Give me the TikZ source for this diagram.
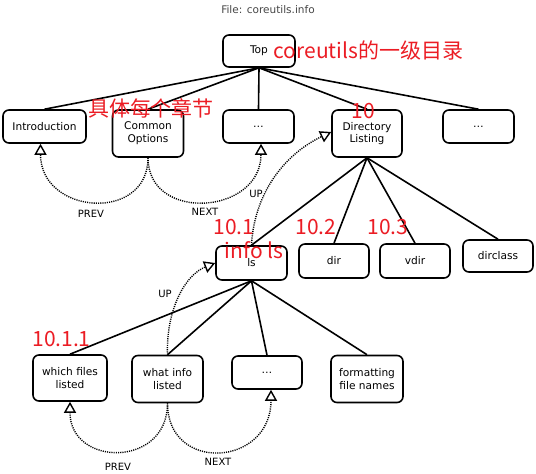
\documentclass[tikz,border=0pt]{standalone}
\usepackage{fontspec}
\setmainfont{DejaVu Sans}
\newfontfamily\cjk{Noto Sans CJK SC}
\usetikzlibrary{arrows.meta}
\definecolor{notered}{RGB}{235,28,36}
\definecolor{titlegray}{RGB}{70,70,70}

\begin{document}
\begin{tikzpicture}[x=1pt,y=-1pt,
	infobox/.style={draw,line width=1.6pt,rounded corners=6pt,minimum width=71pt,minimum height=33pt,align=center,inner sep=1pt,font=\fontsize{10.6}{12.8}\selectfont},
	twoline/.style={infobox,minimum height=47pt},
	branch/.style={line width=1.6pt},
	jump/.style={line width=1.4pt,dash pattern=on 1.1pt off 1.1pt,-{Triangle[open,length=11pt,width=12pt,line width=1.4pt]}},
	jumplbl/.style={font=\fontsize{10}{12}\selectfont},
	memo/.style={text=notered,inner sep=0pt,font=\cjk\fontsize{21}{24}\selectfont}]
	\useasboundingbox (0,0) rectangle (536,474);

	\node[text=titlegray,font=\fontsize{10.5}{12}\selectfont] (title) at (268,10) {File: coreutils.info};

	\node[infobox,minimum width=72pt,minimum height=32pt] (top) at (259,51) {Top};

	\node[infobox,minimum width=83pt] (intro) at (44.5,126.5) {Introduction};
	\node[twoline] (common) at (148,133.5) {Common\\Options};
	\node[infobox] (dots1) at (258.5,126.5) {\dots};
	\node[twoline,minimum width=70pt] (dirlist) at (367,133.5) {Directory\\Listing};
	\node[infobox] (dots2) at (478.5,126.5) {\dots};

	\node[infobox,minimum height=34pt] (ls) at (251.5,263) {ls};
	\node[infobox,minimum width=70pt,minimum height=34pt] (dir) at (334,261) {dir};
	\node[infobox,minimum width=70pt,minimum height=34pt] (vdir) at (415,261) {vdir};
	\node[infobox,minimum width=70pt,minimum height=32pt] (dirclass) at (498,256) {dirclass};

	\node[twoline,minimum width=74pt,minimum height=46pt] (which) at (70,378) {which files\\listed};
	\node[twoline] (what) at (167.5,379) {what info\\listed};
	\node[infobox,minimum width=70pt] (dots3) at (267,372.5) {\dots};
	\node[twoline,minimum width=72pt] (fmt) at (367,379) {formatting\\file names};

	\foreach \kid in {intro,common,dots1,dirlist,dots2}
		\draw[branch] (top.south) -- (\kid.north);
	\foreach \kid in {ls,dir,vdir,dirclass}
		\draw[branch] (dirlist.south) -- (\kid.north);
	\foreach \kid in {which,what,dots3,fmt}
		\draw[branch] (ls.south) -- (\kid.north);

	\draw[jump] (common.south) .. controls +(0,65) and +(0,71) .. ([xshift=-4pt]intro.south);
	\draw[jump] (common.south) .. controls +(0,65) and +(0,71) .. ([xshift=2.5pt]dots1.south);
	\draw[jump] (ls.north) .. controls (254,195) and (283,155) .. ([yshift=1.5pt]dirlist.west);
	\draw[jump] (what.north) .. controls (166,310) and (185,275) .. (ls.west);
	\draw[jump] (what.south) .. controls +(0,65) and +(0,65) .. (which.south);
	\draw[jump] (what.south) .. controls +(0,70) and +(0,77) .. ([xshift=4pt]dots3.south);

	\node[jumplbl] (prev1) at (91,214) {PREV};
	\node[jumplbl] (next1) at (205,212) {NEXT};
	\node[jumplbl] (up1) at (256,194) {UP};
	\node[jumplbl] (up2) at (165,294) {UP};
	\node[jumplbl] (prev2) at (118,467) {PREV};
	\node[jumplbl] (next2) at (218,462) {NEXT};

	\node[memo] (memotop) at (368.5,50) {coreutils的一级目录};
	\node[memo] (memochap) at (151,108) {具体每个章节};
	\node[memo] (memo10) at (363,111) {10};
	\node[memo] (memo101) at (234,227) {10.1};
	\node[memo] (memols) at (254,250) {info ls};
	\node[memo] (memo102) at (316,227) {10.2};
	\node[memo] (memo103) at (388,227) {10.3};
	\node[memo] (memo1011) at (61.5,339) {10.1.1};
\end{tikzpicture}
\end{document}
